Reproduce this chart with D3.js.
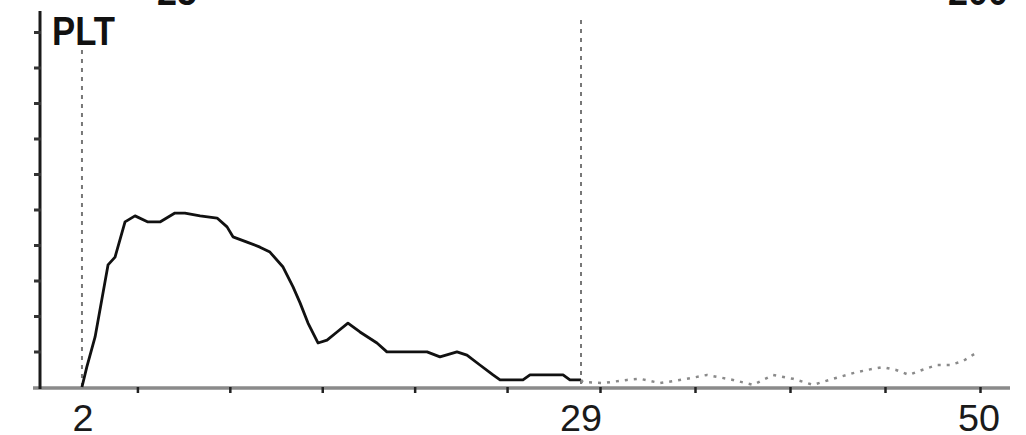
<!DOCTYPE html>
<html>
<head>
<meta charset="utf-8">
<script src="https://cdn.jsdelivr.net/npm/d3@7"></script>
<style>
	html, body { margin: 0; padding: 0; background: #fff; overflow: hidden; }
	svg { display: block; }
	text { font-family: "Liberation Sans", "DejaVu Sans", sans-serif; font-weight: bold; fill: #111; }
	text.num { font-weight: normal; fill: #1a1a1a; }
</style>
</head>
<body>
<svg id="chart" width="1026" height="435"></svg>
<script>
// PLT histogram (volume in fL vs relative count)
const title = 'PLT';
const topLabels = [ { text: '25', side: 'left' }, { text: '200', side: 'right' } ];
const discriminators = [ 2, 29 ];
const discriminatorLabels = [ '2', '29' ];
const endLabel = '50';
const xTicks = [ 5, 10, 15, 20, 25, 30, 35, 40, 45, 50 ];
const yTicks = [ 1, 2, 3, 4, 5, 6, 7, 8, 9, 10 ];

// solid part, between the discriminators
const mainVolumes = [ 2.0, 2.26, 2.71, 3.07, 3.41, 3.79, 4.33, 4.87, 5.57, 6.22, 7.03, 7.57, 8.39, 9.31, 9.85, 10.17,
	10.93, 11.63, 12.17, 12.88, 13.42, 13.8, 14.23, 14.77, 15.26, 15.8, 16.39, 17.04, 17.96, 18.5, 20.67, 21.37,
	22.29, 22.83, 23.53, 24.24, 24.62, 25.86, 26.24, 28.03, 28.4, 29.0 ];
const mainCounts = [ 0, 0.56, 1.41, 2.45, 3.44, 3.66, 4.65, 4.82, 4.65, 4.65, 4.9, 4.9, 4.82, 4.76, 4.51, 4.23,
	4.08, 3.94, 3.8, 3.38, 2.82, 2.37, 1.8, 1.24, 1.32, 1.55, 1.8, 1.55, 1.24, 0.99, 0.99, 0.85,
	0.99, 0.9, 0.62, 0.34, 0.2, 0.2, 0.34, 0.34, 0.2, 0.2 ];

// dotted tail, above the upper discriminator
const tailVolumes = [ 29.0, 29.1, 30.16, 31.42, 32.11, 33.16, 34.58, 35.63, 37.0, 38.05, 39.11, 40.16, 41.21,
	42.26, 43.32, 44.05, 44.89, 45.58, 46.26, 46.95, 47.74, 48.42, 49.11, 49.79 ];
const tailCounts = [ 0.2, 0.14, 0.11, 0.2, 0.23, 0.11, 0.23, 0.34, 0.2, 0.06, 0.34, 0.23, 0.06,
	0.23, 0.39, 0.48, 0.56, 0.48, 0.34, 0.48, 0.62, 0.62, 0.73, 0.96 ];

const svg = d3.select('#chart');
const baseY = 387;
const topY = 32;

let x = d3.scaleLinear()
	.domain([ 0, 29, 50 ])
	.range([ 45, 581, 980 ]);
let y = d3.scaleLinear()
	.domain([ 0, 10 ])
	.range([ baseY, topY ]);

// top labels, mostly cut off by the frame
svg.selectAll('text.top')
	.data(topLabels)
	.enter().append('text')
	.attr('class', 'top')
	.attr('x', d => d.side == 'left' ? 157 : 948)
	.attr('y', 5)
	.attr('textLength', d => d.text.length * 20)
	.attr('lengthAdjust', 'spacingAndGlyphs')
	.style('font-size', '38px')
	.text(d => d.text);

// discriminator lines
svg.selectAll('line.disc')
	.data(discriminators)
	.enter().append('line')
	.attr('class', 'disc')
	.attr('x1', d => x(d))
	.attr('x2', d => x(d))
	.attr('y1', (d, i) => i == 0 ? 50 : 20)
	.attr('y2', baseY)
	.style('stroke', '#777')
	.style('stroke-width', 2)
	.style('stroke-dasharray', '4,5');

// x axis baseline
svg.append('line')
	.attr('x1', 33).attr('x2', 1010)
	.attr('y1', baseY + 1).attr('y2', baseY + 1)
	.style('stroke', '#8a8a8a')
	.style('stroke-width', 3.5);

let xAxis = d3.axisBottom(x)
	.tickValues(xTicks)
	.tickSize(6)
	.tickFormat('');
svg.append('g')
	.attr('transform', 'translate(0,' + (baseY) + ')')
	.call(xAxis)
	.call(g => g.select('.domain').remove())
	.call(g => g.selectAll('.tick line').style('stroke', '#222').style('stroke-width', 2.5));

// y axis
svg.append('line')
	.attr('x1', 40).attr('x2', 40)
	.attr('y1', 11).attr('y2', baseY + 2)
	.style('stroke', '#1a1a1a')
	.style('stroke-width', 3);

let yAxis = d3.axisLeft(y)
	.tickValues(yTicks)
	.tickSize(7)
	.tickFormat('');
svg.append('g')
	.attr('transform', 'translate(41,0)')
	.call(yAxis)
	.call(g => g.select('.domain').remove())
	.call(g => g.selectAll('.tick line').style('stroke', '#333').style('stroke-width', 3));

// curve
let line = d3.line()
	.x(d => x(d[0]))
	.y(d => y(d[1]));

svg.append('path')
	.datum(d3.zip(mainVolumes, mainCounts))
	.attr('d', line)
	.style('fill', 'none')
	.style('stroke', '#111')
	.style('stroke-width', 2.8)
	.style('stroke-linejoin', 'round');

svg.append('path')
	.datum(d3.zip(tailVolumes, tailCounts))
	.attr('d', line)
	.style('fill', 'none')
	.style('stroke', '#8a8a8a')
	.style('stroke-width', 2.5)
	.style('stroke-dasharray', '3,6');

// title
svg.append('text')
	.attr('x', 52)
	.attr('y', 45)
	.attr('textLength', 63)
	.attr('lengthAdjust', 'spacingAndGlyphs')
	.style('font-size', '41px')
	.text(title);

// x labels
svg.selectAll('text.disc-label')
	.data(discriminators)
	.enter().append('text')
	.attr('class', 'disc-label num')
	.attr('x', (d, i) => x(d) + (i == 0 ? 1 : 0))
	.attr('y', 431)
	.attr('text-anchor', 'middle')
	.attr('textLength', (d, i) => discriminatorLabels[i].length * 21)
	.attr('lengthAdjust', 'spacingAndGlyphs')
	.style('font-size', '37px')
	.text((d, i) => discriminatorLabels[i]);

svg.append('text')
	.attr('class', 'num')
	.attr('x', x(50) - 1)
	.attr('y', 431)
	.attr('text-anchor', 'middle')
	.attr('textLength', 42)
	.attr('lengthAdjust', 'spacingAndGlyphs')
	.style('font-size', '37px')
	.text(endLabel);
</script>
</body>
</html>
